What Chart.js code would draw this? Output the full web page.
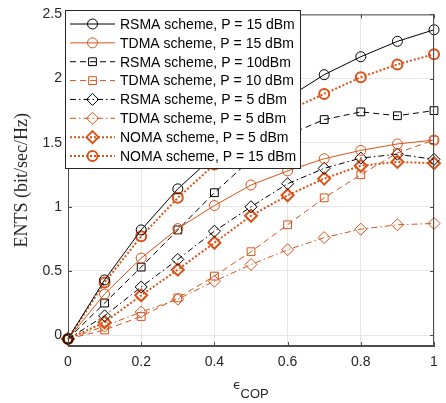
<!DOCTYPE html>
<html>
<head>
<meta charset="utf-8">
<script src="https://cdn.jsdelivr.net/npm/chart.js@4/dist/chart.umd.min.js"></script>
<style>
  html, body { margin: 0; padding: 0; background: #fff; }
  #wrap { width: 446px; height: 403px; }
</style>
</head>
<body>
<div id="wrap"><canvas id="chart" width="446" height="403"></canvas></div>
<script>
// x axis: epsilon_COP
const xValues = [0, 0.1, 0.2, 0.3, 0.4, 0.5, 0.6, 0.7, 0.8, 0.9, 1];
const xTicks = [0, 0.2, 0.4, 0.6, 0.8, 1];
const yTicks = [0, 0.5, 1, 1.5, 2, 2.5];

// ENTS values
const rsma15 = [-0.03, 0.43, 0.82, 1.14, 1.40, 1.64, 1.85, 2.03, 2.17, 2.29, 2.38];
const tdma15 = [-0.03, 0.32, 0.60, 0.83, 1.01, 1.17, 1.28, 1.375, 1.44, 1.49, 1.52];
const rsma10 = [-0.03, 0.25, 0.53, 0.82, 1.11, 1.37, 1.56, 1.68, 1.74, 1.71, 1.75];
const tdma10 = [-0.03, 0.04, 0.145, 0.29, 0.46, 0.65, 0.86, 1.07, 1.25, 1.42, 1.52];
const rsma5 = [-0.03, 0.15, 0.375, 0.59, 0.81, 1.00, 1.18, 1.30, 1.38, 1.41, 1.37];
const tdma5 = [-0.03, 0.07, 0.18, 0.28, 0.42, 0.55, 0.665, 0.76, 0.826, 0.86, 0.87];
const noma5 = [-0.03, 0.10, 0.31, 0.51, 0.72, 0.93, 1.09, 1.22, 1.32, 1.35, 1.34];
const noma15 = [-0.03, 0.41, 0.77, 1.07, 1.33, 1.55, 1.75, 1.88, 2.01, 2.11, 2.19];

const seriesLabels = [
  'RSMA scheme, P = 15 dBm',
  'TDMA scheme, P = 15 dBm',
  'RSMA scheme, P = 10dBm',
  'TDMA scheme, P = 10 dBm',
  'RSMA scheme, P = 5 dBm',
  'TDMA scheme, P = 5 dBm',
  'NOMA scheme, P = 5 dBm',
  'NOMA scheme, P = 15 dBm'
];
const seriesValues = [rsma15, tdma15, rsma10, tdma10, rsma5, tdma5, noma5, noma15];

const BLACK = '#000000';
const ORANGE = '#D95319';
const SOLID = [], DASH = [6, 4], DASHDOT = [6, 3, 1.5, 3], DOT = [2, 2];

// line / marker styles, same order as the labels
const styles = [
  { color: BLACK, dash: SOLID, width: 1, marker: 'circle', radius: 5, mw: 1 },
  { color: ORANGE, dash: SOLID, width: 1, marker: 'circle', radius: 5, mw: 1 },
  { color: BLACK, dash: DASH, width: 1, marker: 'rect', radius: 5.5, mw: 1 },
  { color: ORANGE, dash: DASH, width: 1, marker: 'rect', radius: 5.5, mw: 1 },
  { color: BLACK, dash: DASHDOT, width: 1, marker: 'rectRot', radius: 6, mw: 1 },
  { color: ORANGE, dash: DASHDOT, width: 1, marker: 'rectRot', radius: 6, mw: 1 },
  { color: ORANGE, dash: DOT, width: 2, marker: 'rectRot', radius: 6, mw: 2 },
  { color: ORANGE, dash: DOT, width: 2, marker: 'circle', radius: 5, mw: 2 }
];

const datasets = seriesValues.map((vals, i) => {
  const s = styles[i];
  return {
    label: seriesLabels[i],
    data: xValues.map((x, j) => ({ x: x, y: vals[j] })),
    borderColor: s.color,
    borderWidth: s.width,
    borderDash: s.dash,
    backgroundColor: 'rgba(0,0,0,0)',
    pointStyle: s.marker,
    pointRadius: s.radius,
    pointBorderWidth: s.mw,
    pointBorderColor: s.color,
    pointBackgroundColor: 'rgba(0,0,0,0)',
    tension: 0,
    fill: false,
    clip: false
  };
});

function drawMarker(ctx, type, x, y, r) {
  ctx.beginPath();
  if (type === 'circle') {
    ctx.arc(x, y, r, 0, Math.PI * 2);
  } else if (type === 'rect') {
    const h = r * Math.SQRT1_2;
    ctx.rect(x - h, y - h, 2 * h, 2 * h);
  } else {
    ctx.moveTo(x, y - r);
    ctx.lineTo(x + r, y);
    ctx.lineTo(x, y + r);
    ctx.lineTo(x - r, y);
    ctx.closePath();
  }
  ctx.stroke();
}

// box, inward ticks, axis title and the legend
const decorations = {
  id: 'decorations',
  afterDraw(chart) {
    const ctx = chart.ctx;
    const a = chart.chartArea;
    const xs = chart.scales.x, ys = chart.scales.y;
    ctx.save();
    ctx.strokeStyle = '#4d4d4d';
    ctx.lineWidth = 1;
    ctx.setLineDash([]);
    ctx.strokeRect(a.left + 0.5, a.top + 0.5, a.right - a.left - 1, a.bottom - a.top - 1);
    ctx.beginPath();
    xTicks.forEach(t => {
      const px = Math.round(xs.getPixelForValue(t)) + 0.5;
      ctx.moveTo(px, a.bottom); ctx.lineTo(px, a.bottom - 4);
      ctx.moveTo(px, a.top); ctx.lineTo(px, a.top + 4);
    });
    yTicks.forEach(t => {
      const py = Math.round(ys.getPixelForValue(t)) + 0.5;
      ctx.moveTo(a.left, py); ctx.lineTo(a.left + 4, py);
      ctx.moveTo(a.right, py); ctx.lineTo(a.right - 4, py);
    });
    ctx.stroke();

    // x title: epsilon_COP
    ctx.fillStyle = '#262626';
    ctx.textBaseline = 'alphabetic';
    ctx.textAlign = 'left';
    ctx.font = '13px "DejaVu Sans"';
    ctx.fillText('\u03F5', 233, 388.5);
    ctx.font = '13px "Liberation Sans", Arial, sans-serif';
    ctx.fillText('COP', 240.5, 398);

    // y title
    ctx.save();
    ctx.translate(22, (a.top + a.bottom) / 2);
    ctx.rotate(-Math.PI / 2);
    ctx.textAlign = 'center';
    ctx.textBaseline = 'middle';
    ctx.font = '18px "Liberation Serif", "Times New Roman", serif';
    ctx.fillText('ENTS (bit/sec/Hz)', 0, 0);
    ctx.restore();

    // legend
    const lx = 65, ly = 10, lw = 235, lh = 158;
    ctx.fillStyle = '#ffffff';
    ctx.fillRect(lx, ly, lw, lh);
    ctx.strokeStyle = '#262626';
    ctx.lineWidth = 1;
    ctx.strokeRect(lx + 0.5, ly + 0.5, lw, lh);
    ctx.font = '14px "Liberation Sans", Arial, sans-serif';
    ctx.textBaseline = 'middle';
    ctx.textAlign = 'left';
    seriesLabels.forEach((lab, i) => {
      const s = styles[i];
      const y = 24 + i * 18.86;
      ctx.strokeStyle = s.color;
      ctx.lineWidth = s.width;
      ctx.setLineDash(s.dash);
      ctx.beginPath();
      ctx.moveTo(70, y); ctx.lineTo(115, y);
      ctx.stroke();
      ctx.setLineDash([]);
      ctx.lineWidth = s.mw;
      drawMarker(ctx, s.marker, 92.5, y, s.radius);
      ctx.fillStyle = '#000000';
      ctx.fillText(lab, 120, y + 1);
    });
    ctx.restore();
  }
};

const ctx = document.getElementById('chart').getContext('2d');
new Chart(ctx, {
  type: 'line',
  data: { datasets: datasets },
  options: {
    responsive: false,
    animation: false,
    layout: { padding: { left: 0, right: 12, top: 8, bottom: 0 } },
    plugins: { legend: { display: false }, tooltip: { enabled: false } },
    elements: { line: { borderCapStyle: 'butt' } },
    scales: {
      x: {
        type: 'linear',
        min: 0,
        max: 1,
        afterBuildTicks: s => { s.ticks = xTicks.map(v => ({ value: v })); },
        afterFit: s => { s.height = 57; },
        grid: { color: '#e6e6e6', drawTicks: false },
        border: { color: '#4d4d4d' },
        ticks: {
          padding: 8,
          color: '#262626',
          font: { family: '"Liberation Sans", Arial, sans-serif', size: 14 },
          callback: v => String(v),
          maxRotation: 0
        }
      },
      y: {
        type: 'linear',
        min: -0.085,
        max: 2.5,
        afterBuildTicks: s => { s.ticks = yTicks.map(v => ({ value: v })); },
        afterFit: s => { s.width = 68; },
        grid: { color: '#e6e6e6', drawTicks: false },
        border: { color: '#4d4d4d' },
        ticks: {
          padding: 6,
          color: '#262626',
          font: { family: '"Liberation Sans", Arial, sans-serif', size: 14 },
          callback: v => String(v)
        }
      }
    }
  },
  plugins: [decorations]
});
</script>
</body>
</html>
